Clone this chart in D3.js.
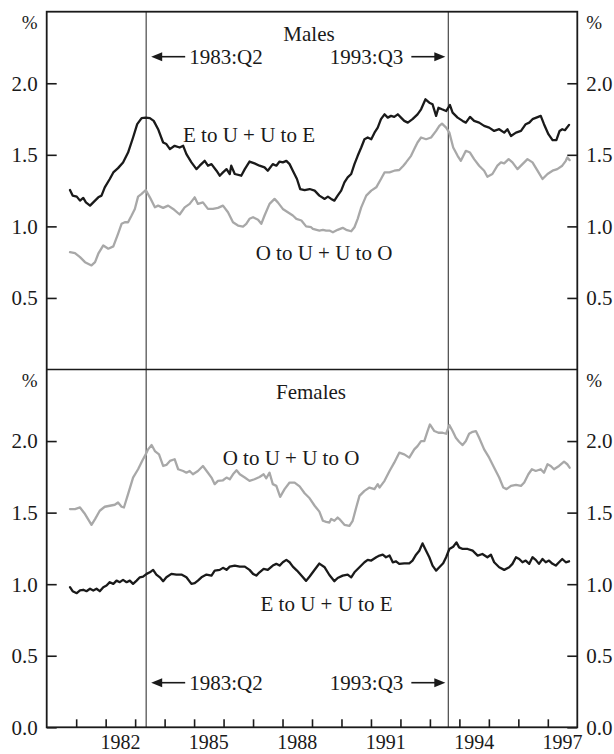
<!DOCTYPE html>
<html>
<head>
<meta charset="utf-8">
<script src="https://cdn.jsdelivr.net/npm/d3@7"></script>
<style>
html,body{margin:0;padding:0;background:#fff;}
svg{display:block;}
text{font-family:"Liberation Serif","Times New Roman",serif;fill:#1a1a1a;}
</style>
</head>
<body>
<svg id="chart" width="614" height="754"></svg>
<script>
// ---- Data (decimal year, per cent) ----
const panels = ["Males", "Females"];
const yTicks = [0.0, 0.5, 1.0, 1.5, 2.0];
const xTickYears = [1981,1982,1983,1984,1985,1986,1987,1988,1989,1990,1991,1992,1993,1994,1995,1996,1997];
const xLabelYears = [1982, 1985, 1988, 1991, 1994, 1997];
const breakDates = [1983.375, 1993.625];
const breakLabels = ["1983:Q2", "1993:Q3"];
const seriesLabels = ["E to U + U to E", "O to U + U to O"];

const maleEU = [[1980.79,1.254],[1980.88,1.215],[1981.02,1.208],[1981.13,1.18],[1981.24,1.199],[1981.33,1.168],[1981.47,1.145],[1981.58,1.168],[1981.75,1.203],[1981.86,1.215],[1981.97,1.273],[1982.14,1.331],[1982.26,1.377],[1982.42,1.407],[1982.59,1.447],[1982.76,1.516],[1982.93,1.621],[1983.07,1.714],[1983.22,1.756],[1983.36,1.76],[1983.50,1.756],[1983.63,1.737],[1983.78,1.679],[1983.95,1.586],[1984.06,1.575],[1984.18,1.54],[1984.34,1.563],[1984.51,1.551],[1984.63,1.563],[1984.74,1.505],[1984.91,1.447],[1985.08,1.40],[1985.19,1.424],[1985.36,1.458],[1985.47,1.424],[1985.59,1.435],[1985.76,1.389],[1985.87,1.354],[1985.98,1.377],[1986.10,1.40],[1986.21,1.366],[1986.26,1.424],[1986.38,1.366],[1986.60,1.354],[1986.72,1.40],[1986.88,1.453],[1987.05,1.44],[1987.22,1.424],[1987.39,1.412],[1987.50,1.389],[1987.67,1.435],[1987.79,1.424],[1987.90,1.453],[1988.01,1.447],[1988.13,1.458],[1988.24,1.435],[1988.35,1.389],[1988.49,1.331],[1988.60,1.261],[1988.75,1.254],[1988.92,1.261],[1989.09,1.25],[1989.25,1.215],[1989.43,1.192],[1989.54,1.208],[1989.65,1.192],[1989.76,1.18],[1989.87,1.215],[1989.99,1.25],[1990.10,1.307],[1990.21,1.342],[1990.33,1.366],[1990.44,1.435],[1990.55,1.493],[1990.67,1.551],[1990.78,1.609],[1990.89,1.621],[1991.01,1.609],[1991.12,1.655],[1991.23,1.69],[1991.34,1.749],[1991.46,1.783],[1991.57,1.76],[1991.68,1.772],[1991.79,1.765],[1991.91,1.783],[1992.02,1.76],[1992.13,1.737],[1992.25,1.725],[1992.41,1.749],[1992.58,1.783],[1992.70,1.818],[1992.85,1.888],[1992.98,1.864],[1993.09,1.853],[1993.21,1.772],[1993.29,1.829],[1993.41,1.818],[1993.55,1.806],[1993.68,1.848],[1993.77,1.795],[1993.94,1.76],[1994.11,1.737],[1994.22,1.725],[1994.36,1.765],[1994.50,1.737],[1994.67,1.725],[1994.84,1.702],[1995.01,1.69],[1995.18,1.667],[1995.35,1.679],[1995.52,1.655],[1995.63,1.679],[1995.75,1.632],[1995.92,1.655],[1996.09,1.667],[1996.25,1.714],[1996.37,1.725],[1996.48,1.749],[1996.61,1.76],[1996.76,1.772],[1996.87,1.714],[1997.02,1.644],[1997.16,1.602],[1997.29,1.602],[1997.40,1.667],[1997.49,1.679],[1997.58,1.672],[1997.72,1.709]];

const maleOU = [[1980.79,0.82],[1980.96,0.813],[1981.13,0.785],[1981.30,0.75],[1981.52,0.727],[1981.64,0.75],[1981.75,0.809],[1981.92,0.867],[1982.09,0.844],[1982.26,0.86],[1982.42,0.948],[1982.54,1.018],[1982.65,1.029],[1982.76,1.029],[1982.88,1.076],[1982.99,1.122],[1983.10,1.208],[1983.22,1.227],[1983.36,1.254],[1983.50,1.203],[1983.67,1.133],[1983.78,1.145],[1983.95,1.129],[1984.12,1.145],[1984.29,1.122],[1984.51,1.083],[1984.68,1.133],[1984.85,1.157],[1985.02,1.203],[1985.13,1.157],[1985.30,1.168],[1985.47,1.122],[1985.64,1.122],[1985.81,1.129],[1985.98,1.145],[1986.15,1.099],[1986.32,1.029],[1986.49,1.006],[1986.66,0.999],[1986.77,1.018],[1986.88,1.053],[1987.00,1.064],[1987.17,1.046],[1987.28,1.018],[1987.39,1.076],[1987.56,1.157],[1987.73,1.192],[1987.84,1.168],[1988.01,1.122],[1988.18,1.099],[1988.35,1.076],[1988.47,1.053],[1988.64,1.041],[1988.80,1.0],[1988.97,0.994],[1989.03,0.983],[1989.25,0.971],[1989.37,0.976],[1989.48,0.971],[1989.59,0.971],[1989.71,0.959],[1989.87,0.976],[1990.04,0.99],[1990.16,0.976],[1990.33,0.966],[1990.44,0.994],[1990.55,1.053],[1990.67,1.133],[1990.84,1.215],[1991.01,1.25],[1991.18,1.273],[1991.34,1.331],[1991.46,1.377],[1991.63,1.377],[1991.79,1.389],[1991.96,1.394],[1992.10,1.424],[1992.19,1.447],[1992.36,1.493],[1992.47,1.54],[1992.58,1.586],[1992.70,1.621],[1992.87,1.609],[1993.04,1.621],[1993.21,1.667],[1993.32,1.702],[1993.41,1.718],[1993.55,1.69],[1993.66,1.655],[1993.79,1.551],[1993.94,1.493],[1994.05,1.458],[1994.22,1.528],[1994.36,1.516],[1994.50,1.47],[1994.67,1.424],[1994.84,1.389],[1994.95,1.347],[1995.12,1.366],[1995.29,1.424],[1995.41,1.447],[1995.52,1.44],[1995.67,1.47],[1995.80,1.447],[1995.97,1.40],[1996.14,1.435],[1996.31,1.47],[1996.48,1.447],[1996.65,1.389],[1996.82,1.331],[1996.99,1.366],[1997.16,1.389],[1997.32,1.40],[1997.49,1.424],[1997.61,1.458],[1997.66,1.481],[1997.74,1.463]];

const femOU = [[1980.79,1.525],[1980.96,1.525],[1981.13,1.536],[1981.30,1.49],[1981.52,1.415],[1981.64,1.455],[1981.80,1.513],[1981.97,1.541],[1982.14,1.548],[1982.31,1.555],[1982.42,1.571],[1982.54,1.541],[1982.62,1.536],[1982.76,1.629],[1982.93,1.745],[1983.10,1.803],[1983.25,1.866],[1983.36,1.907],[1983.44,1.942],[1983.56,1.972],[1983.67,1.93],[1983.81,1.907],[1983.95,1.826],[1984.06,1.833],[1984.18,1.861],[1984.34,1.873],[1984.46,1.803],[1984.63,1.791],[1984.74,1.779],[1984.85,1.791],[1984.96,1.768],[1985.13,1.791],[1985.30,1.826],[1985.47,1.779],[1985.59,1.745],[1985.70,1.699],[1985.81,1.722],[1985.98,1.726],[1986.10,1.745],[1986.21,1.733],[1986.32,1.768],[1986.44,1.796],[1986.55,1.768],[1986.72,1.745],[1986.88,1.722],[1987.05,1.733],[1987.22,1.749],[1987.36,1.768],[1987.45,1.74],[1987.56,1.779],[1987.67,1.699],[1987.79,1.687],[1987.92,1.61],[1988.07,1.664],[1988.24,1.71],[1988.41,1.71],[1988.58,1.683],[1988.75,1.635],[1988.92,1.60],[1989.09,1.548],[1989.25,1.507],[1989.37,1.443],[1989.48,1.435],[1989.59,1.431],[1989.65,1.455],[1989.76,1.443],[1989.87,1.466],[1989.93,1.455],[1990.10,1.415],[1990.27,1.408],[1990.38,1.443],[1990.50,1.536],[1990.61,1.617],[1990.78,1.652],[1990.95,1.675],[1991.12,1.664],[1991.23,1.699],[1991.29,1.675],[1991.46,1.722],[1991.63,1.791],[1991.79,1.849],[1991.96,1.919],[1992.13,1.907],[1992.30,1.884],[1992.47,1.942],[1992.58,1.965],[1992.70,2.0],[1992.81,2.0],[1992.92,2.07],[1993.00,2.116],[1993.15,2.07],[1993.29,2.058],[1993.43,2.058],[1993.55,2.051],[1993.66,2.111],[1993.77,2.07],[1993.88,2.023],[1993.99,1.995],[1994.11,1.972],[1994.22,2.0],[1994.33,2.051],[1994.45,2.065],[1994.56,2.07],[1994.67,2.023],[1994.84,1.942],[1995.01,1.884],[1995.18,1.814],[1995.35,1.745],[1995.49,1.675],[1995.60,1.664],[1995.75,1.687],[1995.92,1.694],[1996.09,1.687],[1996.20,1.71],[1996.34,1.768],[1996.46,1.803],[1996.59,1.791],[1996.76,1.803],[1996.87,1.779],[1996.99,1.838],[1997.10,1.826],[1997.21,1.803],[1997.38,1.826],[1997.55,1.856],[1997.66,1.838],[1997.74,1.814]];

const femEU = [[1980.79,0.979],[1980.88,0.951],[1981.02,0.937],[1981.13,0.956],[1981.24,0.961],[1981.35,0.951],[1981.47,0.968],[1981.58,0.956],[1981.69,0.968],[1981.80,0.951],[1981.92,0.979],[1982.03,0.991],[1982.14,1.014],[1982.26,1.002],[1982.37,1.025],[1982.48,1.014],[1982.59,1.03],[1982.71,1.014],[1982.82,1.025],[1982.93,1.002],[1983.05,1.025],[1983.16,1.048],[1983.27,1.053],[1983.39,1.072],[1983.50,1.083],[1983.61,1.10],[1983.72,1.067],[1983.84,1.048],[1983.95,1.021],[1984.06,1.048],[1984.23,1.072],[1984.40,1.067],[1984.57,1.067],[1984.74,1.048],[1984.91,1.002],[1985.02,1.007],[1985.13,1.025],[1985.25,1.048],[1985.42,1.067],[1985.59,1.06],[1985.70,1.095],[1985.87,1.10],[1985.98,1.114],[1986.10,1.10],[1986.21,1.123],[1986.38,1.13],[1986.55,1.123],[1986.72,1.123],[1986.88,1.10],[1987.00,1.072],[1987.11,1.06],[1987.22,1.083],[1987.36,1.107],[1987.50,1.10],[1987.67,1.13],[1987.79,1.142],[1987.90,1.13],[1988.01,1.153],[1988.13,1.17],[1988.24,1.153],[1988.35,1.123],[1988.49,1.095],[1988.64,1.06],[1988.80,1.023],[1988.92,1.054],[1989.09,1.101],[1989.25,1.144],[1989.43,1.118],[1989.59,1.064],[1989.76,1.021],[1989.87,1.043],[1990.04,1.06],[1990.21,1.067],[1990.33,1.048],[1990.44,1.083],[1990.61,1.118],[1990.78,1.153],[1990.89,1.17],[1991.01,1.165],[1991.18,1.188],[1991.29,1.20],[1991.40,1.206],[1991.51,1.188],[1991.63,1.20],[1991.74,1.153],[1991.85,1.16],[1991.96,1.142],[1992.13,1.146],[1992.30,1.146],[1992.41,1.165],[1992.53,1.206],[1992.64,1.234],[1992.75,1.285],[1992.87,1.234],[1992.98,1.188],[1993.09,1.13],[1993.21,1.095],[1993.32,1.118],[1993.45,1.146],[1993.55,1.188],[1993.66,1.246],[1993.79,1.262],[1993.90,1.292],[1993.99,1.257],[1994.11,1.246],[1994.28,1.246],[1994.45,1.234],[1994.62,1.20],[1994.78,1.211],[1994.95,1.188],[1995.07,1.206],[1995.18,1.153],[1995.35,1.118],[1995.52,1.10],[1995.69,1.118],[1995.80,1.142],[1995.92,1.188],[1996.03,1.176],[1996.14,1.153],[1996.25,1.165],[1996.37,1.142],[1996.48,1.188],[1996.59,1.17],[1996.70,1.142],[1996.82,1.176],[1996.93,1.153],[1997.04,1.165],[1997.16,1.142],[1997.27,1.13],[1997.38,1.153],[1997.49,1.176],[1997.61,1.153],[1997.72,1.16]];

// ---- Layout ----
const svg = d3.select("#chart");
const L = 46.7, R = 577.3, T = 11.7, B = 727.3, MID = 369.5;
const FS = 21;
const BLACK = "#1a1a1a", GREY = "#a8a8a8", VLINE = "#555";

const x = d3.scaleLinear().domain([1980, 1998]).range([L, R]);
const yTop = d3.scaleLinear().domain([0, 2.5]).range([MID, T]);
const yBot = d3.scaleLinear().domain([0, 2.5]).range([B, MID]);

// vertical break lines
breakDates.forEach(d => {
  svg.append("line").attr("x1", x(d)).attr("x2", x(d)).attr("y1", T).attr("y2", B)
    .attr("stroke", VLINE).attr("stroke-width", 1.3);
});

function drawLine(data, y, color) {
  const line = d3.line().x(d => x(d[0])).y(d => y(d[1]));
  svg.append("path").datum(data).attr("d", line).attr("fill", "none")
    .attr("stroke", color).attr("stroke-width", 2.3)
    .attr("stroke-linejoin", "round").attr("stroke-linecap", "round");
}
drawLine(maleOU, yTop, GREY);
drawLine(maleEU, yTop, BLACK);
drawLine(femOU, yBot, GREY);
drawLine(femEU, yBot, BLACK);

// frame
svg.append("rect").attr("x", L).attr("y", T).attr("width", R - L).attr("height", B - T)
  .attr("fill", "none").attr("stroke", BLACK).attr("stroke-width", 1.8);
svg.append("line").attr("x1", L).attr("x2", R).attr("y1", MID).attr("y2", MID)
  .attr("stroke", BLACK).attr("stroke-width", 1.6);

// y axes (ticks inward) via d3 axes
function yAxes(y, vals) {
  const gl = svg.append("g").attr("transform", `translate(${L},0)`)
    .call(d3.axisRight(y).tickValues(vals).tickSize(10).tickFormat(""));
  const gr = svg.append("g").attr("transform", `translate(${R},0)`)
    .call(d3.axisLeft(y).tickValues(vals).tickSize(10).tickFormat(""));
  [gl, gr].forEach(g => {
    g.select(".domain").remove();
    g.selectAll("line").attr("stroke", BLACK).attr("stroke-width", 1.6);
  });
  vals.forEach(v => {
    svg.append("text").attr("x", L - 9).attr("y", y(v)).attr("dy", "0.35em")
      .attr("text-anchor", "end").attr("font-size", FS).text(d3.format(".1f")(v));
    svg.append("text").attr("x", R + 9).attr("y", y(v)).attr("dy", "0.35em")
      .attr("text-anchor", "start").attr("font-size", FS).text(d3.format(".1f")(v));
  });
}
yAxes(yTop, yTicks.filter(v => v > 0));
yAxes(yBot, yTicks);

// % unit labels
[T, MID].forEach(top => {
  svg.append("text").attr("x", L - 9).attr("y", top + 11).attr("dy", "0.35em")
    .attr("text-anchor", "end").attr("font-size", FS - 2).text("%");
  svg.append("text").attr("x", R + 9).attr("y", top + 11).attr("dy", "0.35em")
    .attr("text-anchor", "start").attr("font-size", FS - 2).text("%");
});

// x axis
const gx = svg.append("g").attr("transform", `translate(0,${B})`)
  .call(d3.axisTop(x).tickValues(xTickYears).tickSize(8).tickFormat(""));
gx.select(".domain").remove();
gx.selectAll("line").attr("stroke", BLACK).attr("stroke-width", 1.6);
xLabelYears.forEach(yr => {
  svg.append("text").attr("x", x(yr + 0.5)).attr("y", 749)
    .attr("text-anchor", "middle").attr("font-size", FS - 1).text(yr);
});

// panel titles
svg.append("text").attr("x", 309).attr("y", T + 29).attr("text-anchor", "middle")
  .attr("font-size", FS).text(panels[0]);
svg.append("text").attr("x", 311).attr("y", MID + 29).attr("text-anchor", "middle")
  .attr("font-size", FS).text(panels[1]);

// arrows
function arrow(x1, x2, y) {
  const dir = Math.sign(x2 - x1);
  svg.append("line").attr("x1", x1).attr("x2", x2 - dir * 8).attr("y1", y).attr("y2", y)
    .attr("stroke", BLACK).attr("stroke-width", 1.6);
  svg.append("path").attr("d", `M${x2},${y} L${x2 - dir * 11},${y - 4.5} L${x2 - dir * 11},${y + 4.5} Z`)
    .attr("fill", BLACK);
}
[[56.7, 63.5], [682.7, 689.5]].forEach(([ay, ty]) => {
  const xa = x(breakDates[0]), xb = x(breakDates[1]);
  arrow(xa + 39, xa + 5, ay);
  svg.append("text").attr("x", xa + 43).attr("y", ty).attr("font-size", FS).text(breakLabels[0]);
  arrow(xb - 37, xb - 3, ay);
  svg.append("text").attr("x", xb - 45).attr("y", ty).attr("text-anchor", "end")
    .attr("font-size", FS).text(breakLabels[1]);
});

// series labels
svg.append("text").attr("x", 249).attr("y", 141.5).attr("text-anchor", "middle").attr("font-size", FS).text(seriesLabels[0]);
svg.append("text").attr("x", 324).attr("y", 260).attr("text-anchor", "middle").attr("font-size", FS).text(seriesLabels[1]);
svg.append("text").attr("x", 291).attr("y", 465).attr("text-anchor", "middle").attr("font-size", FS).text(seriesLabels[1]);
svg.append("text").attr("x", 326.5).attr("y", 611).attr("text-anchor", "middle").attr("font-size", FS).text(seriesLabels[0]);
</script>
</body>
</html>
